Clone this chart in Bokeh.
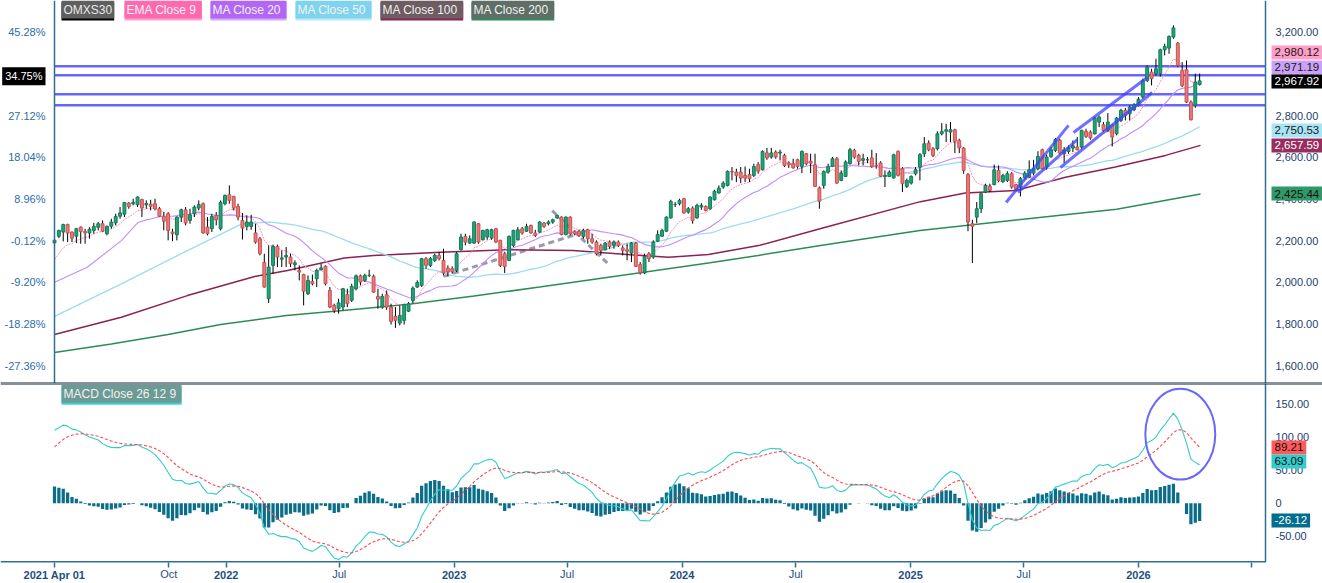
import json
import pandas as pd
from bokeh.plotting import figure
from bokeh.layouts import column
from bokeh.models import (ColumnDataSource, LinearAxis, Range1d, FixedTicker, Span, Label,
                          NumeralTickFormatter, CustomJSTickFormatter)
from bokeh.embed import file_html
from bokeh.resources import INLINE

# ---------------- data (weekly OMXS30) ----------------
start_date = "2021-04-01"
open_ = [2190,2222,2242,2278,2242,2222,2266,2245,2237,2250,
 2265,2282,2234,2270,2286,2318,2328,2381,2378,2373,
 2398,2373,2376,2378,2354,2318,2330,2242,2229,2314,
 2349,2298,2330,2357,2378,2266,2258,2322,2258,2378,
 2421,2413,2365,2298,2269,2269,2238,2210,2096,1922,
 2082,2173,2112,2122,2122,2086,2058,2038,1946,2005,
 2018,2061,2078,1962,1890,1874,1882,1942,1914,1970,
 2032,2010,2034,2030,1933,1882,1941,1882,1837,1805,
 1818,1862,1914,1978,1986,2114,2082,2106,2130,2106,
 2069,2066,2058,2157,2221,2189,2189,2282,2205,2218,
 2214,2258,2202,2138,2106,2178,2205,2258,2246,2274,
 2237,2242,2285,2282,2290,2310,2314,2230,2314,2246,
 2246,2221,2253,2210,2194,2178,2157,2194,2178,2194,
 2166,2157,2141,2189,2086,2046,2138,2122,2198,2222,
 2246,2310,2374,2378,2402,2338,2357,2310,2362,2365,
 2354,2397,2430,2458,2466,2533,2530,2530,2514,2518,
 2514,2566,2541,2622,2602,2626,2621,2610,2574,2570,
 2589,2557,2618,2582,2565,2454,2466,2530,2557,2594,
 2490,2509,2570,2634,2610,2586,2589,2598,2562,2574,
 2509,2509,2502,2629,2546,2461,2477,2522,2554,2618,
 2669,2642,2642,2714,2726,2722,2733,2682,2645,2518,
 2282,2314,2354,2434,2461,2470,2538,2485,2490,2522,
 2470,2458,2502,2506,2525,2546,2637,2554,2605,2634,
 2682,2618,2629,2645,2650,2650,2725,2722,2714,2770,
 2757,2730,2754,2714,2778,2826,2810,2829,2850,2890,
 2970,3010,3002,3002,3117,3125,3178,3149,3018,3021,
 2866,2850,2950]
high = [2212,2253,2282,2282,2245,2262,2269,2258,2265,2286,
 2290,2298,2274,2306,2330,2362,2386,2386,2402,2413,
 2402,2394,2397,2402,2362,2338,2338,2258,2317,2354,
 2362,2354,2370,2394,2384,2314,2330,2338,2394,2422,
 2466,2416,2378,2333,2322,2325,2282,2218,2138,2178,
 2182,2182,2154,2170,2138,2106,2082,2042,2034,2038,
 2066,2090,2082,1978,1898,1922,1974,1970,1994,2038,
 2038,2042,2061,2038,1970,1946,1962,1898,1882,1890,
 1898,1906,1981,2010,2118,2122,2122,2138,2146,2162,
 2082,2077,2146,2234,2234,2226,2294,2285,2253,2258,
 2258,2262,2205,2146,2226,2253,2266,2266,2282,2278,
 2253,2294,2290,2298,2306,2326,2317,2317,2317,2250,
 2253,2258,2258,2234,2202,2186,2194,2202,2202,2202,
 2178,2186,2194,2194,2098,2138,2146,2202,2250,2258,
 2317,2397,2386,2402,2406,2362,2365,2378,2381,2370,
 2413,2445,2466,2486,2538,2554,2546,2554,2557,2546,
 2570,2578,2634,2646,2646,2634,2637,2618,2582,2594,
 2594,2634,2621,2618,2618,2461,2538,2570,2602,2602,
 2538,2586,2646,2642,2618,2618,2602,2637,2621,2582,
 2538,2538,2618,2634,2554,2498,2514,2554,2621,2698,
 2682,2650,2726,2765,2762,2770,2738,2690,2650,2525,
 2301,2386,2429,2474,2474,2566,2562,2522,2534,2530,
 2474,2506,2534,2586,2589,2630,2642,2614,2650,2694,
 2690,2650,2658,2682,2698,2733,2738,2730,2797,2802,
 2770,2813,2762,2794,2834,2838,2850,2861,2890,2978,
 3042,3026,3074,3122,3146,3186,3234,3154,3058,3066,
 2874,3002,3003]
low = [2185,2213,2197,2194,2194,2189,2186,2186,2210,2234,
 2250,2242,2226,2258,2274,2306,2314,2354,2370,2362,
 2314,2354,2346,2346,2314,2250,2202,2198,2202,2290,
 2274,2282,2314,2346,2234,2226,2242,2274,2250,2370,
 2378,2346,2298,2206,2250,2253,2186,2130,1975,1902,
 2042,2074,2074,2074,2074,2058,2010,1890,1940,1986,
 1978,2058,1986,1876,1853,1850,1866,1882,1906,1962,
 1986,2002,2026,1950,1874,1874,1869,1798,1782,1794,
 1798,1858,1901,1974,1978,2066,2074,2098,2106,2034,
 2029,2042,2050,2154,2178,2186,2186,2186,2202,2205,
 2205,2189,2074,2045,2102,2170,2202,2230,2242,2234,
 2218,2237,2262,2274,2282,2306,2226,2226,2226,2226,
 2218,2210,2186,2186,2130,2130,2154,2162,2162,2170,
 2130,2106,2098,2074,2038,2040,2098,2114,2194,2218,
 2242,2306,2362,2370,2330,2330,2282,2306,2349,2341,
 2349,2394,2426,2450,2461,2490,2482,2477,2482,2482,
 2506,2522,2538,2589,2594,2594,2586,2554,2550,2546,
 2546,2525,2562,2525,2458,2354,2450,2522,2554,2474,
 2486,2506,2566,2594,2562,2562,2573,2550,2546,2506,
 2458,2506,2498,2509,2434,2454,2470,2514,2490,2602,
 2630,2602,2634,2706,2674,2674,2621,2621,2522,2246,
 2093,2285,2333,2429,2434,2466,2482,2477,2482,2450,
 2438,2413,2493,2502,2514,2538,2541,2541,2598,2626,
 2614,2573,2618,2626,2634,2642,2694,2685,2710,2746,
 2722,2722,2653,2706,2770,2778,2778,2822,2845,2882,
 2962,2946,2994,2989,3090,3098,3170,3034,2938,2861,
 2778,2838,2945]
close = [2203,2250,2278,2237,2213,2258,2245,2238,2256,2269,
 2282,2246,2269,2290,2317,2334,2384,2365,2384,2410,
 2357,2379,2365,2354,2318,2294,2250,2234,2314,2349,
 2285,2325,2362,2374,2238,2234,2317,2301,2384,2418,
 2394,2357,2314,2261,2290,2290,2194,2138,1978,2074,
 2173,2122,2118,2130,2090,2094,2050,1958,2010,1994,
 2058,2070,1994,1882,1866,1902,1970,1898,1981,2032,
 2002,2034,2034,1954,1920,1933,1882,1813,1818,1842,
 1894,1898,1973,2000,2114,2082,2114,2130,2114,2045,
 2050,2053,2138,2218,2194,2210,2290,2194,2250,2253,
 2253,2194,2082,2077,2221,2250,2253,2237,2269,2238,
 2226,2290,2269,2290,2301,2322,2230,2314,2234,2234,
 2226,2250,2210,2194,2138,2154,2189,2173,2194,2178,
 2154,2150,2189,2077,2046,2126,2114,2194,2230,2250,
 2314,2389,2374,2394,2334,2354,2298,2370,2370,2346,
 2410,2438,2453,2477,2533,2530,2514,2501,2501,2498,
 2557,2534,2629,2598,2622,2602,2626,2562,2565,2550,
 2557,2629,2570,2573,2461,2390,2533,2557,2594,2477,
 2525,2578,2637,2602,2581,2594,2589,2557,2560,2510,
 2514,2530,2613,2514,2474,2490,2509,2541,2614,2666,
 2637,2610,2714,2725,2733,2733,2678,2646,2538,2290,
 2270,2354,2426,2466,2442,2541,2490,2514,2522,2458,
 2446,2498,2525,2541,2546,2605,2546,2602,2637,2686,
 2621,2637,2645,2656,2637,2730,2701,2694,2790,2794,
 2730,2770,2698,2789,2826,2802,2842,2854,2880,2970,
 3034,2978,3026,3117,3133,3181,3222,3042,2946,2866,
 2781,2962,2968]

# moving-average readings (week index, value) where history before the chart is needed
ma20_early_idx = [0, 7.5, 15.3]
ma20_early_val = [2001, 2073, 2201]
ma50_early_idx = [0, 15.3, 30.4, 38.2, 42.8]
ma50_early_val = [1837, 1993, 2153, 2233, 2281]
ma100_idx = [0,15.3,30.4,45.8,53.3,66.3,73,88.3,103.6,118.7,131.8,140.5,149.6,161.1,176.4,198.1,208.4,219.9,231.3,242.7,254.2,262.2]
ma100_val = [1750,1833,1937,2029,2057,2117,2129,2145,2157,2153,2133,2121,2134,2177,2265,2388,2429,2441,2505,2554,2610,2658]
ma200_idx = [0,13,26,38,53,66,81,96,111,132,150,161,176,198,220,243,262.2]
ma200_val = [1664,1705,1750,1798,1841,1865,1895,1935,1978,2041,2095,2130,2180,2250,2300,2352,2425]
ema9_seed = 2110
ema12_seed, ema26_seed, signal_seed = 2100, 1990, 85

# horizontal levels and drawn lines
levels = [3038, 2995, 2904, 2851]
channel_lines = [("2025-06-03", 2384, "2025-09-11", 2754),
                 ("2025-06-22", 2432, "2025-09-25", 2686),
                 ("2025-09-19", 2720, "2026-01-15", 2984),
                 ("2025-08-29", 2552, "2026-01-23", 2912)]
grey_lines = [("2022-12-15", 2029, "2023-08-04", 2249),
              ("2023-06-07", 2345, "2023-09-06", 2086)]
ellipse_center = ("2026-03-09", 104)
ellipse_size = (112, 137)  # days, MACD units

price_ticks = [1600, 1800, 2000, 2200, 2400, 2600, 2800, 3000, 3200]
pct_labels = ["-27.36%", "-18.28%", "-9.20%", "-0.12%", "8.96%", "18.04%", "27.12%", "36.20%", "45.28%"]
macd_ticks = [-50, 0, 50, 100, 150]
x_tick_dates = ["2021-04-01", "2021-10-01", "2022-01-01", "2022-07-01", "2023-01-01", "2023-07-01",
                "2024-01-01", "2024-07-01", "2025-01-01", "2025-07-01", "2026-01-01", "2026-07-01"]
x_tick_labels = ["2021 Apr 01", "Oct", "2022", "Jul", "2023", "Jul", "2024", "Jul", "2025", "Jul", "2026", ""]
x_tick_bold = [True, False, True, False, True, False, True, False, True, False, True, False]

legend_items = [("OMXS30", "#5f5f5f", "#e8e8e8", "#000000"),
                ("EMA  Close 9", "#ff69b0", "#f4f4f4", "#ff9fd0"),
                ("MA  Close 20", "#b266f5", "#f4f4f4", "#d4a8ff"),
                ("MA  Close 50", "#7fd3ee", "#f4f4f4", "#b4ecfb"),
                ("MA  Close 100", "#6d5c61", "#f0f0f0", "#8b2252"),
                ("MA  Close 200", "#5f6e66", "#f0f0f0", "#2e8b57")]
price_tags = [("2,980.12", 3104, "#ff9ec6", "#1a1a1a"), ("2,971.19", 3032, "#c9a2f7", "#1a1a1a"),
              ("2,967.92", 2965, "#000000", "#ffffff"), ("2,750.53", 2730, "#a8e4f6", "#1a1a1a"),
              ("2,657.59", 2658, "#9a2d5f", "#ffffff"), ("2,425.44", 2427, "#2f9a68", "#111111")]
macd_tags = [("89.21", 84, "#ff5a5a", "#111111"), ("63.09", 63, "#33cccc", "#111111"),
             ("-26.12", -26.1, "#006e8c", "#ffffff")]

# ---------------- derived series ----------------
N = len(close)
start = pd.Timestamp(start_date)
dates = [start + pd.Timedelta(days=7 * i) for i in range(N)]
DAY = 86400000.0
PX_PER_DAY = 0.6244

def wk(idx):
    return start + pd.Timedelta(days=7 * idx)

def at_px(px):
    # date located at a given x of the reference picture
    return start + pd.Timedelta(days=(px - 54) / PX_PER_DAY)

def ema(vals, n, seed):
    a = 2.0 / (n + 1)
    out = [seed]
    for v in vals[1:]:
        out.append(out[-1] + a * (v - out[-1]))
    return out

cs = pd.Series(close, dtype=float)
ema9 = ema(close, 9, ema9_seed)
ma20 = cs.rolling(20).mean()
ma50 = cs.rolling(50).mean()
ema12 = ema(close, 12, ema12_seed)
ema26 = ema(close, 26, ema26_seed)
macd = [a - b for a, b in zip(ema12, ema26)]
signal = ema(macd, 9, signal_seed)
hist = [m - s for m, s in zip(macd, signal)]

FONT = "Liberation Sans"
AX = "#2f6f94"
W = 1322
axis_end = at_px(1265)
XR = (at_px(0), at_px(1322))

# ---------------- price panel ----------------
p1 = figure(width=W, height=383, x_range=Range1d(*XR),
            y_range=Range1d(1515, 3353.6), x_axis_location=None, y_axis_location="right",
            toolbar_location=None, output_backend="svg",
            min_border_left=0, min_border_right=0, min_border_top=0, min_border_bottom=0)
p1.outline_line_color = None
p1.grid.visible = False

def style_y(ax, color, standoff):
    ax.axis_line_color = None
    ax.major_tick_line_color = None
    ax.minor_tick_line_color = None
    ax.major_tick_out = 0
    ax.major_tick_in = 0
    ax.minor_tick_out = 0
    ax.major_label_text_font = FONT
    ax.major_label_text_font_size = "11px"
    ax.major_label_text_color = color
    ax.major_label_standoff = standoff

yr = p1.yaxis[0]
yr.ticker = FixedTicker(ticks=price_ticks)
yr.formatter = NumeralTickFormatter(format="0,0.00")
style_y(yr, "#22406e", -47)
pct_map = {str(t): l for t, l in zip(price_ticks, pct_labels)}
yl = LinearAxis(ticker=FixedTicker(ticks=price_ticks),
                formatter=CustomJSTickFormatter(code="const m=%s; const k=String(Math.round(tick)); return (k in m)? m[k] : '';" % json.dumps(pct_map)))
style_y(yl, "#2b6ea8", -45)
p1.add_layout(yl, "left")

# axis lines of the price panel
p1.add_layout(Span(location=start, dimension="height", line_color=AX, line_width=1.5))
p1.add_layout(Span(location=axis_end, dimension="height", line_color=AX, line_width=1.5))
p1.add_layout(Span(location=1515, dimension="width", line_color="#0b2536", line_width=2))

p1.segment(x0=[start] * len(levels), y0=levels, x1=[axis_end] * len(levels), y1=levels,
           line_color="#5555ff", line_width=2.5, line_alpha=0.9)

for d0, v0, d1, v1 in grey_lines:
    p1.line([pd.Timestamp(d0), pd.Timestamp(d1)], [v0, v1], line_color="#8e8ea6", line_width=3,
            line_dash="6 4", line_alpha=0.9)

# moving averages
p1.line([wk(i) for i in ma200_idx], ma200_val, line_color="#2e8b57", line_width=1.5)
p1.line([wk(i) for i in ma100_idx], ma100_val, line_color="#8b2252", line_width=1.5)
p1.line([wk(i) for i in ma50_early_idx] + dates[49:], ma50_early_val + list(ma50[49:]),
        line_color="#9adcf2", line_width=1.3)
p1.line([wk(i) for i in ma20_early_idx] + dates[19:], ma20_early_val + list(ma20[19:]),
        line_color="#c28cff", line_width=1.1)
p1.line(dates, ema9, line_color="#ff8cc0", line_width=1, line_dash="2 1")

inc = [c >= o for o, c in zip(open_, close)]
src = ColumnDataSource(dict(
    x=dates, h=high, l=low,
    top=[max(o, c) for o, c in zip(open_, close)],
    bot=[min(o, c) for o, c in zip(open_, close)],
    fill=["#1ea67a" if u else "#e67c7c" for u in inc],
    line=["#137a58" if u else "#c94f4f" for u in inc]))
p1.segment(x0="x", y0="h", x1="x", y1="l", source=src, line_color="black", line_width=1)
p1.vbar(x="x", width=4.6 * DAY, top="top", bottom="bot", fill_color="fill", line_color="line", source=src)

for d0, v0, d1, v1 in channel_lines:
    p1.line([pd.Timestamp(d0), pd.Timestamp(d1)], [v0, v1], line_color="#4040ff", line_width=3, line_alpha=0.75)

def boxed(p, x, y, txt, bg, fg, size, under=None, yunits="screen", align="left", baseline="middle", pad=2):
    if under is not None:
        p.add_layout(Label(x=x, y=y, y_offset=-2, x_units="screen", y_units=yunits, text=txt, text_align=align,
                           text_font=FONT, text_font_size=size, text_color=under, text_baseline=baseline,
                           background_fill_color=under, background_fill_alpha=1.0, padding=pad))
    p.add_layout(Label(x=x, y=y, x_units="screen", y_units=yunits, text=txt, text_align=align,
                       text_font=FONT, text_font_size=size, text_color=fg, text_baseline=baseline,
                       background_fill_color=bg, background_fill_alpha=1.0, padding=pad))

# legend boxes
xs = [61, 124, 210, 295, 380, 471]
for (txt, bg, fg, ul), xx in zip(legend_items, xs):
    boxed(p1, xx, 374, txt, bg, fg, "12px", under=ul)

for txt, yv, bg, fg in price_tags:
    boxed(p1, 1271, yv, txt, bg, fg, "11.5px", yunits="data", pad=3)
boxed(p1, 45, 2990, "34.75%", "#000000", "#ffffff", "11px", yunits="data", align="right", pad=3)

# ---------------- MACD panel ----------------
p2 = figure(width=W, height=200, x_range=Range1d(*XR),
            y_range=Range1d(-89.6, 180.6), x_axis_type="datetime", y_axis_location="right",
            toolbar_location=None, output_backend="svg",
            min_border_left=0, min_border_right=0, min_border_top=0, min_border_bottom=0)
p2.outline_line_color = None
p2.grid.visible = False

my = p2.yaxis[0]
my.ticker = FixedTicker(ticks=macd_ticks)
my.formatter = CustomJSTickFormatter(code="return tick == 0 ? '0' : tick.toFixed(2);")
style_y(my, "#22406e", -47)

tick_ms = [float(pd.Timestamp(d).value // 10**6) for d in x_tick_dates]
month_map = {str(int(ms)): lab for ms, lab, b in zip(tick_ms, x_tick_labels, x_tick_bold) if not b}
year_map = {str(int(ms)): lab for ms, lab, b in zip(tick_ms, x_tick_labels, x_tick_bold) if b}
JS = "const m=%s; const k=String(Math.round(tick)); return (k in m)? m[k] : '';"
xa = p2.xaxis[0]
xa.ticker = FixedTicker(ticks=tick_ms)
xa.formatter = CustomJSTickFormatter(code=JS % json.dumps(month_map))
xa.axis_line_color = None
xa.major_tick_line_color = AX
xa.major_tick_line_width = 1.5
xa.major_tick_out = 5
xa.major_tick_in = 0
xa.minor_tick_line_color = None
xa.major_label_text_font = FONT
xa.major_label_text_font_size = "11px"
xa.major_label_text_color = "#1f4f7f"
xa.major_label_standoff = 0

xy = LinearAxis(ticker=FixedTicker(ticks=[t for t, b in zip(tick_ms, x_tick_bold) if b]),
                formatter=CustomJSTickFormatter(code=JS % json.dumps(year_map)))
xy.axis_line_color = None
xy.major_tick_line_color = None
xy.minor_tick_line_color = None
xy.major_tick_out = 0
xy.major_tick_in = 0
xy.major_label_text_font = FONT
xy.major_label_text_font_size = "11px"
xy.major_label_text_font_style = "bold"
xy.major_label_text_color = "#1f4f7f"
xy.major_label_standoff = -14
p2.add_layout(xy, "below")

p2.add_layout(Span(location=axis_end, dimension="height", line_color=AX, line_width=1.5))
p2.add_layout(Span(location=180.6, dimension="width", line_color="#0b2536", line_width=2))
# time axis line, ending at the price-axis line like the reference
p2.segment(x0=[XR[0]], y0=[-89.6], x1=[axis_end], y1=[-89.6], line_color=AX, line_width=3)

p2.vbar(x=dates, top=hist, bottom=0, width=5.2 * DAY, fill_color="#0a6e8a", line_color=None)
p2.line(dates, macd, line_color="#33cccc", line_width=1.1)
p2.line(dates, signal, line_color="#ff4a4a", line_width=1.1, line_dash="3 2")

p2.ellipse(x=[pd.Timestamp(ellipse_center[0])], y=[ellipse_center[1]], width=[ellipse_size[0] * DAY],
           height=[ellipse_size[1]], fill_alpha=0, line_color="#6868ff", line_width=2)

boxed(p2, 61, 165, "MACD  Close 26 12 9", "#6c9a95", "#f2f2f2", "12px", under="#33d6d6", yunits="data")
for txt, yv, bg, fg in macd_tags:
    boxed(p2, 1271, yv, txt, bg, fg, "11.5px", yunits="data", pad=3)

layout = column(p1, p2, spacing=0)
open("out.html", "w").write(file_html(layout, INLINE))
